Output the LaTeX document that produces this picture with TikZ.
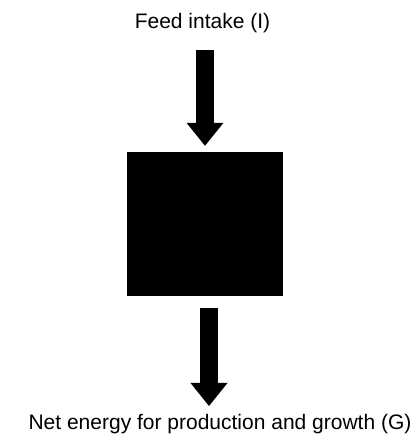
\documentclass[tikz,border=0pt]{standalone}
\usepackage{fontspec}
\setmainfont{Liberation Sans}
\usepackage{tikz}
\usetikzlibrary{arrows.meta, positioning}
\definecolor{myblack}{RGB}{0,0,0}
\tikzset{
  lbl/.style={inner sep=0pt, anchor=base, font=\fontsize{21}{25}\selectfont, text=myblack},
  blackbox/.style={rectangle, draw=none, fill=myblack,
    minimum width=156pt, minimum height=144pt, inner sep=0pt},
  flow/.style={line width=18pt, color=myblack,
    -{Triangle[width=37pt, length=23pt, line width=0pt]}}
}

\begin{document}
\begin{tikzpicture}[x=1pt, y=1pt]
  \useasboundingbox (0,0) rectangle (417,448);
  \node[lbl] (feed) at (202.5,419) {Feed intake (I)};
  \node[blackbox] (sys) at (205,224) {};
  \node[lbl] (net) at (220,19) {Net energy for production and growth (G)};

  \coordinate (in) at (205,398);
  \coordinate (out) at (209,42);

  \draw[flow, shorten >=6pt] (in) -- (sys.north);
  \draw[flow] ([xshift=4pt, yshift=-12pt]sys.south) -- (out);
\end{tikzpicture}
\end{document}
